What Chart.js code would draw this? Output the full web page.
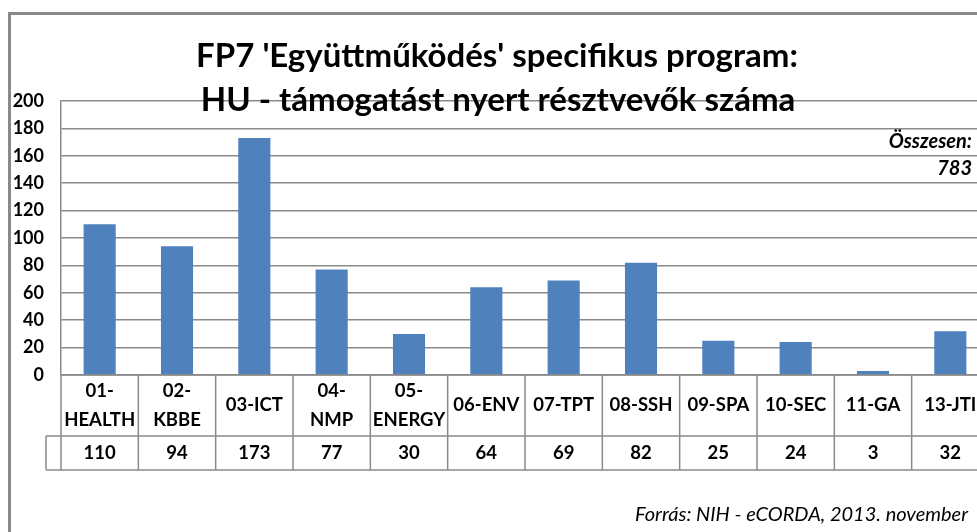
<!DOCTYPE html>
<html>
<head>
<meta charset="utf-8">
<script src="https://cdn.jsdelivr.net/npm/chart.js@4/dist/chart.umd.min.js"></script>
<style>
  html, body { margin: 0; padding: 0; background: #fff; overflow: hidden; }
  #wrap { width: 977px; height: 532px; overflow: hidden; position: relative; }
</style>
</head>
<body>
<div id="wrap">
  <canvas id="chart" width="1000" height="532"></canvas>
</div>
<script>
const titleLines = ["FP7 'Együttműködés' specifikus program:", "HU - támogatást nyert résztvevők száma"]
const categories = [
  ["01-", "HEALTH"], ["02-", "KBBE"], ["03-ICT"], ["04-", "NMP"], ["05-", "ENERGY"],
  ["06-ENV"], ["07-TPT"], ["08-SSH"], ["09-SPA"], ["10-SEC"], ["11-GA"], ["13-JTI"],
]
const participants = [110, 94, 173, 77, 30, 64, 69, 82, 25, 24, 3, 32]
const totalLabel = ["Összesen:", "783"]
const sourceNote = "Forrás: NIH - eCORDA, 2013. november"
const yMin = 0
const yMax = 200
const yStep = 20

const FONT = "Lato, 'Noto Sans', sans-serif"
const LINE = "#8a8a8a"

// cadre, titre, total, source et tableau de données
const decorPlugin = {
  id: "decor",
  beforeDraw: (chart) => {
    const ctx = chart.ctx
    ctx.save()
    ctx.strokeStyle = LINE
    ctx.lineWidth = 3
    ctx.strokeRect(9.5, 13.5, 1100, 600)
    ctx.restore()
  },
  afterDraw: (chart) => {
    const ctx = chart.ctx
    const area = chart.chartArea
    const x = chart.scales.x
    const n = categories.length
    const cw = (area.right - area.left) / n
    const row1 = area.bottom + 61
    const row2 = row1 + 34

    ctx.save()
    // tableau
    ctx.strokeStyle = LINE
    ctx.lineWidth = 1.5
    ctx.beginPath()
    ctx.moveTo(area.left, area.bottom)
    ctx.lineTo(area.right, area.bottom)
    ctx.moveTo(area.left - 15, row1)
    ctx.lineTo(area.right, row1)
    ctx.moveTo(area.left - 15, row2)
    ctx.lineTo(area.right, row2)
    ctx.moveTo(area.left - 15, row1)
    ctx.lineTo(area.left - 15, row2)
    for (let i = 0; i <= n; i++) {
      const px = area.left + i * cw
      ctx.moveTo(px, area.bottom)
      ctx.lineTo(px, row2)
    }
    ctx.stroke()

    ctx.fillStyle = "#000"
    ctx.textAlign = "center"
    ctx.textBaseline = "middle"
    ctx.font = "bold 18.5px " + FONT
    categories.forEach((lines, i) => {
      const cx = x.getPixelForValue(i)
      const mid = (area.bottom + row1) / 2
      if (lines.length === 1) {
        ctx.fillText(lines[0], cx, mid, cw - 4)
      } else {
        ctx.fillText(lines[0], cx, mid - 14, cw - 4)
        ctx.fillText(lines[1], cx, mid + 15, cw - 4)
      }
      ctx.fillText(String(participants[i]), cx, (row1 + row2) / 2)
    })

    // titre
    ctx.font = "bold 33px " + FONT
    ctx.textBaseline = "alphabetic"
    ctx.fillText(titleLines[0], 497, 67, 607)
    ctx.fillText(titleLines[1], 498, 111, 597)

    // total
    ctx.textAlign = "right"
    ctx.textBaseline = "middle"
    ctx.font = "italic bold 20px " + FONT
    ctx.fillText(totalLabel[0], 972, 142, 96)
    ctx.fillText(totalLabel[1], 972, 169)

    // source
    ctx.font = "italic 20px " + FONT
    ctx.fillText(sourceNote, 968, 515, 340)
    ctx.restore()
  },
}

new Chart(document.getElementById("chart"), {
  type: "bar",
  data: {
    labels: categories,
    datasets: [
      {
        data: participants,
        backgroundColor: "#4F81BD",
        borderWidth: 0,
        categoryPercentage: 1,
        barPercentage: 0.415,
      },
    ],
  },
  options: {
    responsive: false,
    animation: false,
    layout: { padding: { top: 101, bottom: 157, left: 0, right: 11 } },
    plugins: {
      legend: { display: false },
      tooltip: { enabled: false },
    },
    scales: {
      x: { display: false },
      y: {
        min: yMin,
        max: yMax,
        afterFit: (scale) => {
          scale.width = 61
        },
        ticks: {
          stepSize: yStep,
          padding: 17,
          color: "#000",
          font: { family: FONT, size: 18, weight: "bold" },
        },
        grid: { color: LINE, lineWidth: 1.5, drawTicks: false },
        border: { color: LINE, width: 1.5 },
      },
    },
  },
  plugins: [decorPlugin],
})
</script>
</body>
</html>
